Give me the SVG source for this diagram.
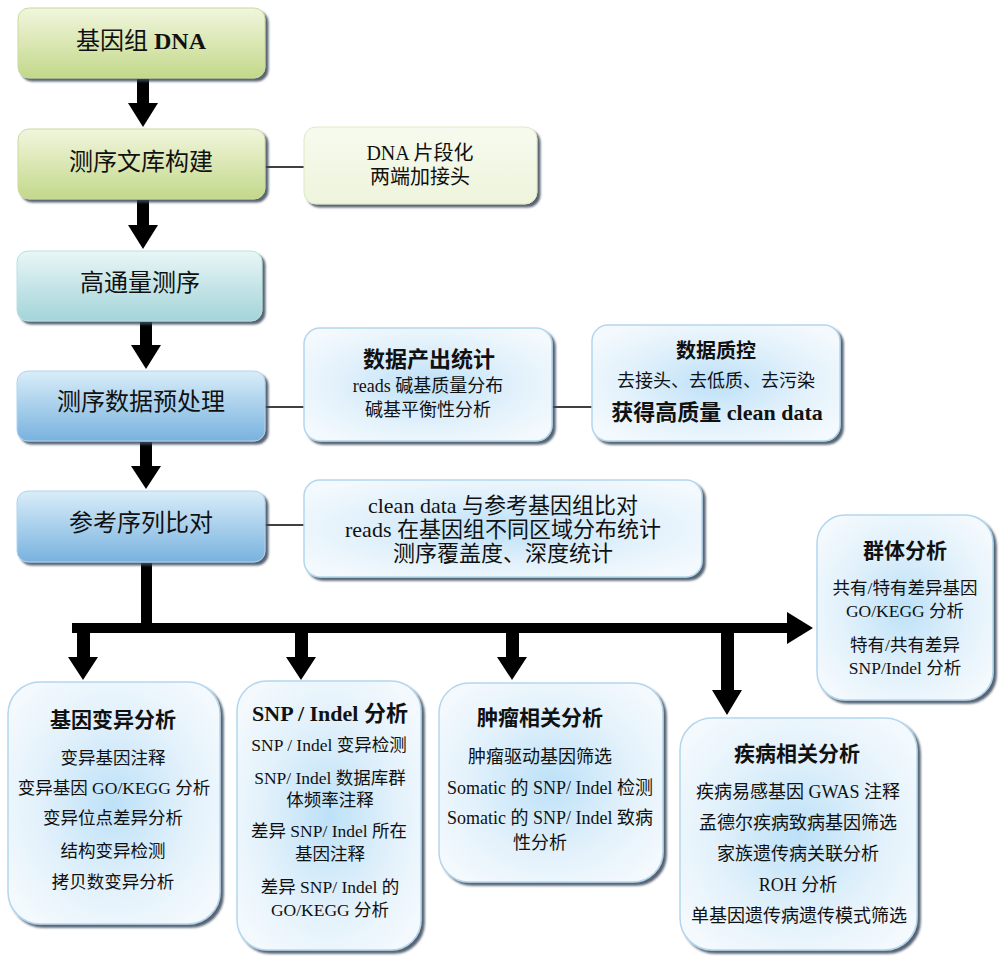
<svg xmlns="http://www.w3.org/2000/svg" width="1000" height="961" viewBox="0 0 1000 961">
<defs>
<linearGradient id="gGreen" x1="0" y1="0" x2="0" y2="1"><stop offset="0" stop-color="#f1f6dd"/><stop offset="1" stop-color="#c3d88a"/></linearGradient>
<linearGradient id="gTeal" x1="0" y1="0" x2="0" y2="1"><stop offset="0" stop-color="#e9f6f6"/><stop offset="1" stop-color="#a3d4d9"/></linearGradient>
<linearGradient id="gBlue" x1="0" y1="0" x2="0" y2="1"><stop offset="0" stop-color="#d9edf9"/><stop offset="1" stop-color="#78b2de"/></linearGradient>
<radialGradient id="gGlow" cx="0.5" cy="0.5" r="0.6"><stop offset="0" stop-color="#bde1f8"/><stop offset="0.6" stop-color="#e2f1fb"/><stop offset="1" stop-color="#f3f9fd"/></radialGradient>
<linearGradient id="gCream" x1="0" y1="0" x2="0" y2="1"><stop offset="0" stop-color="#f7faee"/><stop offset="1" stop-color="#eef4dc"/></linearGradient>
<filter id="sh" x="-10%" y="-10%" width="125%" height="130%"><feDropShadow dx="3" dy="3" stdDeviation="1.2" flood-color="#3a4a5a" flood-opacity="0.85"/></filter>
</defs>
<style>
text{font-family:"Liberation Serif","Noto Sans CJK SC",serif;fill:#111;text-anchor:middle;dominant-baseline:central}
.main{font-size:24px}
.s18{font-size:18px}
.s20{font-size:20px}
.s22{font-size:22px}
.t{font-size:21px;font-weight:bold}
.t22{font-size:22px;font-weight:bold}
.t20{font-size:20px;font-weight:bold}
.i{font-size:17.5px}
.j{font-size:18px}
.mb{stroke:#c9d9a0;stroke-width:1}
.gb{fill:url(#gGlow);stroke:#b3d6ee;stroke-width:1.5}
.ln{stroke:#000;stroke-width:1.5;fill:none}
.ar{fill:#000}
</style>
<g id="connectors">
<line class="ln" x1="265" y1="167" x2="304" y2="167"/>
<line class="ln" x1="265" y1="407" x2="304" y2="407"/>
<line class="ln" x1="552" y1="407" x2="592" y2="407"/>
<line class="ln" x1="265" y1="525" x2="304" y2="525"/>
<path class="ar" d="M137,79 H149 V103 H158 L143,127 L128,103 H137 Z"/>
<path class="ar" d="M137,200 H149 V225 H158 L143,249 L128,225 H137 Z"/>
<path class="ar" d="M140,322 H152 V345 H161 L146,369 L131,345 H140 Z"/>
<path class="ar" d="M140,442 H152 V466 H161 L146,489 L131,466 H140 Z"/>
<path class="ar" d="M141,563 H152 V623 H787 V612 L813,628 L787,644 V633 H734 V690 H742 L727,715 L712,690 H721 V633 H519 V657 H527 L512,680 L497,657 H506 V633 H308 V657 H316 L301,680 L286,657 H295 V633 H90 V657 H98 L83,680 L68,657 H77 V633 H72 V623 H141 Z"/>
</g>
<g id="n1"><rect x="18" y="8" width="247" height="70" rx="11" fill="url(#gGreen)" class="mb" filter="url(#sh)"/><text class="main" x="141" y="41">基因组 <tspan font-weight="bold">DNA</tspan></text></g>
<g id="n2"><rect x="18" y="129" width="247" height="70" rx="11" fill="url(#gGreen)" class="mb" filter="url(#sh)"/><text class="main" x="141" y="162">测序文库构建</text></g>
<g id="n2s"><rect x="304" y="127" width="233" height="77" rx="12" fill="url(#gCream)" stroke="#dfe8c6" stroke-width="1" filter="url(#sh)"/><text class="s20" x="420" y="153">DNA 片段化</text><text class="s20" x="420" y="177">两端加接头</text></g>
<g id="n3"><rect x="17" y="251" width="245" height="70" rx="11" fill="url(#gTeal)" stroke="#b9dfe2" filter="url(#sh)"/><text class="main" x="140" y="283">高通量测序</text></g>
<g id="n4"><rect x="17" y="371" width="248" height="70" rx="11" fill="url(#gBlue)" stroke="#b0d3ee" filter="url(#sh)"/><text class="main" x="141" y="402">测序数据预处理</text></g>
<g id="n4a"><rect x="304" y="328" width="248" height="113" rx="16" class="gb" filter="url(#sh)"/><text class="t22" x="429" y="359">数据产出统计</text><text class="s18" x="428" y="386">reads 碱基质量分布</text><text class="s18" x="428" y="410">碱基平衡性分析</text></g>
<g id="n4b"><rect x="592" y="325" width="248" height="116" rx="16" class="gb" filter="url(#sh)"/><text class="t20" x="716" y="351">数据质控</text><text class="s18" x="716" y="381">去接头、去低质、去污染</text><text class="t22" x="717" y="412">获得高质量 clean data</text></g>
<g id="n5"><rect x="17" y="491" width="248" height="71" rx="11" fill="url(#gBlue)" stroke="#b0d3ee" filter="url(#sh)"/><text class="main" x="141" y="523">参考序列比对</text></g>
<g id="n5a"><rect x="304" y="480" width="398" height="97" rx="16" class="gb" filter="url(#sh)"/><text class="s22" x="503" y="505">clean data 与参考基因组比对</text><text class="s22" x="503" y="529">reads 在基因组不同区域分布统计</text><text class="s22" x="503" y="553">测序覆盖度、深度统计</text></g>
<g id="pop"><rect x="817" y="515" width="176" height="185" rx="28" class="gb" filter="url(#sh)"/><text class="t" x="905" y="551">群体分析</text><text class="i" x="905" y="588">共有/特有差异基因</text><text class="i" x="905" y="611">GO/KEGG  分析</text><text class="i" x="905" y="645">特有/共有差异</text><text class="i" x="905" y="668">SNP/Indel 分析</text></g>
<g id="b1"><rect x="8" y="682" width="212" height="242" rx="32" class="gb" filter="url(#sh)"/><text class="t" x="113" y="720">基因变异分析</text><text class="i" x="113" y="758">变异基因注释</text><text class="i" x="114" y="788">变异基因 GO/KEGG 分析</text><text class="i" x="113" y="818">变异位点差异分析</text><text class="i" x="113" y="851">结构变异检测</text><text class="i" x="113" y="882">拷贝数变异分析</text></g>
<g id="b2"><rect x="237" y="681" width="184" height="269" rx="30" class="gb" filter="url(#sh)"/><text class="t22" x="330" y="713">SNP / Indel 分析</text><text class="i" x="329" y="745">SNP / Indel 变异检测</text><text class="i" x="330" y="778">SNP/ Indel 数据库群</text><text class="i" x="330" y="800">体频率注释</text><text class="i" x="329" y="831">差异 SNP/ Indel 所在</text><text class="i" x="330" y="854">基因注释</text><text class="i" x="330" y="887">差异 SNP/ Indel 的</text><text class="i" x="330" y="910">GO/KEGG 分析</text></g>
<g id="b3"><rect x="439" y="683" width="224" height="199" rx="30" class="gb" filter="url(#sh)"/><text class="t" x="540" y="718">肿瘤相关分析</text><text class="j" x="540" y="757">肿瘤驱动基因筛选</text><text class="j" x="550" y="788">Somatic 的 SNP/ Indel 检测</text><text class="j" x="550" y="818">Somatic 的 SNP/ Indel 致病</text><text class="j" x="540" y="843">性分析</text></g>
<g id="b4"><rect x="680" y="718" width="237" height="232" rx="32" class="gb" filter="url(#sh)"/><text class="t" x="797" y="754">疾病相关分析</text><text class="j" x="798" y="792">疾病易感基因 GWAS 注释</text><text class="j" x="798" y="823">孟德尔疾病致病基因筛选</text><text class="j" x="798" y="854">家族遗传病关联分析</text><text class="j" x="798" y="885">ROH 分析</text><text class="j" x="799" y="916">单基因遗传病遗传模式筛选</text></g>
</svg>
